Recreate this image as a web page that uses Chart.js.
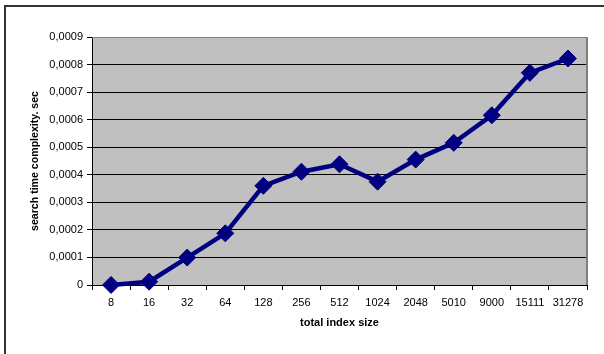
<!DOCTYPE html>
<html>
<head>
<meta charset="utf-8">
<script src="https://cdn.jsdelivr.net/npm/chart.js@4.4.1/dist/chart.umd.min.js"></script>
<style>
html,body{margin:0;padding:0;background:#fff;}
#wrap{width:604px;height:354px;position:relative;}
</style>
</head>
<body>
<div id="wrap"><canvas id="c" width="604" height="354"></canvas></div>
<script>
const categories = ['8','16','32','64','128','256','512','1024','2048','5010','9000','15111','31278'];
const searchTime = [0.0000002, 0.000012, 0.0000995, 0.0001875, 0.00036, 0.000411, 0.000438, 0.000375, 0.000455, 0.000516, 0.000616, 0.000770, 0.000822];
const yMin = 0, yMax = 0.0009, yStep = 0.0001;
const xTitle = 'total index size';
const yTitle = 'search time complexity. sec';

const decor = {
  id: 'decor',
  beforeDraw(chart) {
    const ctx = chart.ctx, a = chart.chartArea;
    ctx.save();
    ctx.fillStyle = '#fff';
    ctx.fillRect(0, 0, chart.width, chart.height);
    ctx.fillStyle = '#C0C0C0';
    ctx.fillRect(a.left, a.top, a.right - a.left, a.bottom - a.top);
    ctx.strokeStyle = '#333';
    ctx.lineWidth = 2;
    ctx.beginPath();
    ctx.moveTo(chart.width, 6);
    ctx.lineTo(5, 6);
    ctx.lineTo(5, chart.height);
    ctx.stroke();
    ctx.restore();
  },
  beforeDatasetsDraw(chart) {
    const ctx = chart.ctx, a = chart.chartArea;
    ctx.save();
    ctx.strokeStyle = '#808080';
    ctx.lineWidth = 1;
    ctx.beginPath();
    ctx.moveTo(a.left, a.top + 0.5);
    ctx.lineTo(a.right, a.top + 0.5);
    ctx.stroke();
    ctx.lineWidth = 2;
    ctx.beginPath();
    ctx.moveTo(a.right, a.top);
    ctx.lineTo(a.right, a.bottom);
    ctx.stroke();
    ctx.restore();
  }
};

new Chart(document.getElementById('c'), {
  type: 'line',
  data: {
    labels: categories,
    datasets: [{
      data: searchTime,
      borderColor: '#000080',
      backgroundColor: '#000080',
      borderWidth: 4.5,
      pointStyle: 'rectRot',
      pointRadius: 8.5,
      pointBorderWidth: 1,
      pointBackgroundColor: '#000080',
      pointBorderColor: '#000080',
      tension: 0,
      clip: false
    }]
  },
  options: {
    responsive: false,
    animation: false,
    devicePixelRatio: 1,
    layout: { padding: { left: 0, top: 37, right: 17, bottom: 0 } },
    plugins: { legend: { display: false }, tooltip: { enabled: false } },
    scales: {
      x: {
        type: 'category',
        offset: true,
        grid: { offset: true, drawOnChartArea: false, drawTicks: true, tickLength: 5, tickColor: '#000', color: '#000' },
        border: { display: true, color: '#000', width: 1 },
        ticks: { color: '#000', font: { family: 'Liberation Sans, Arial, sans-serif', size: 11 }, padding: 6, maxRotation: 0, autoSkip: false },
        title: { display: true, text: xTitle, color: '#000', font: { family: 'Liberation Sans, Arial, sans-serif', size: 11, weight: 'bold' }, padding: { top: 0, bottom: 24 } },
        afterFit(scale) { scale.height = 69; }
      },
      y: {
        min: yMin, max: yMax,
        grid: { color: '#000', lineWidth: 1, drawTicks: true, tickLength: 5, tickColor: '#000' },
        border: { display: true, color: '#000', width: 1 },
        ticks: {
          stepSize: yStep,
          color: '#000',
          padding: 4,
          font: { family: 'Liberation Sans, Arial, sans-serif', size: 11 },
          callback(v) { return v === 0 ? '0' : Number(v).toFixed(4).replace('.', ','); }
        },
        title: { display: true, text: yTitle, color: '#000', font: { family: 'Liberation Sans, Arial, sans-serif', size: 10.6, weight: 'bold' }, padding: { top: 29, bottom: 0 } },
        afterFit(scale) { scale.width = 92; }
      }
    }
  },
  plugins: [decor]
});
</script>
</body>
</html>
